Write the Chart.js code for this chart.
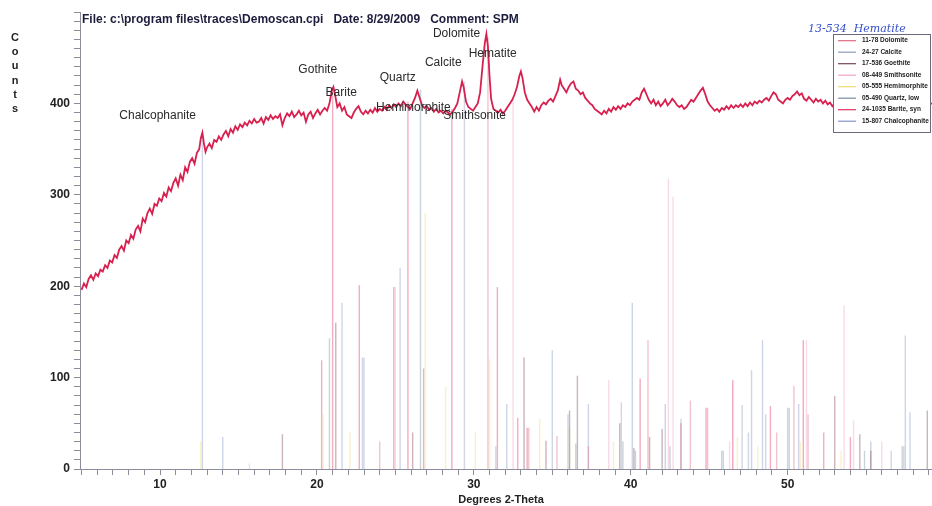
<!DOCTYPE html>
<html>
<head>
<meta charset="utf-8">
<script src="https://cdn.jsdelivr.net/npm/chart.js@4.4.1/dist/chart.umd.min.js"></script>
<style>
  body { margin: 0; background: #fff; }
  #xrd { display: block; }
</style>
</head>
<body>
<canvas id="xrd" width="932" height="506"></canvas>
<script>
// measured scan (degrees 2-theta / counts)
const scanTheta = [
  5.0, 5.15, 5.3, 5.45, 5.6, 5.75, 5.9, 6.05, 6.2, 6.35, 6.5, 6.65, 6.8, 6.95, 7.1, 7.25, 7.4, 7.55, 7.7, 7.85,
  8.0, 8.15, 8.3, 8.45, 8.6, 8.75, 8.9, 9.05, 9.2, 9.35, 9.5, 9.65, 9.8, 9.95, 10.1, 10.25, 10.4, 10.55, 10.7, 10.85,
  11.0, 11.15, 11.3, 11.45, 11.6, 11.75, 11.9, 12.05, 12.2, 12.35, 12.5, 12.6, 12.7, 12.8, 12.9, 13.0, 13.15, 13.3, 13.45, 13.6,
  13.75, 13.9, 14.05, 14.2, 14.35, 14.5, 14.65, 14.8, 14.95, 15.1, 15.25, 15.4, 15.55, 15.7, 15.85, 16.0, 16.15, 16.3, 16.45, 16.6,
  16.75, 16.9, 17.05, 17.2, 17.35, 17.5, 17.65, 17.8, 17.95, 18.1, 18.25, 18.4, 18.55, 18.7, 18.85, 19.0, 19.15, 19.3, 19.45, 19.6,
  19.75, 19.9, 20.05, 20.2, 20.35, 20.5, 20.65, 20.8, 20.95, 21.05, 21.15, 21.3, 21.45, 21.6, 21.75, 21.9, 22.05, 22.2, 22.35, 22.5,
  22.65, 22.8, 22.95, 23.1, 23.25, 23.4, 23.55, 23.7, 23.85, 24.0, 24.15, 24.3, 24.45, 24.6, 24.75, 24.9, 25.05, 25.2, 25.35, 25.5,
  25.65, 25.8, 25.95, 26.1, 26.25, 26.4, 26.55, 26.7, 26.85, 27.0, 27.15, 27.3, 27.45, 27.6, 27.75, 27.9, 28.05, 28.2, 28.35, 28.5,
  28.65, 28.8, 28.95, 29.1, 29.25, 29.35, 29.5, 29.65, 29.8, 29.95, 30.1, 30.25, 30.4, 30.55, 30.7, 30.8, 30.9, 31.0, 31.1, 31.25,
  31.4, 31.55, 31.7, 31.85, 32.0, 32.15, 32.3, 32.45, 32.6, 32.75, 32.9, 33.0, 33.1, 33.25, 33.4, 33.55, 33.7, 33.85, 34.0, 34.15,
  34.3, 34.45, 34.6, 34.75, 34.9, 35.05, 35.2, 35.35, 35.5, 35.6, 35.75, 35.9, 36.05, 36.2, 36.35, 36.5, 36.65, 36.8, 36.95, 37.1,
  37.25, 37.4, 37.55, 37.7, 37.85, 38.0, 38.15, 38.3, 38.45, 38.6, 38.75, 38.9, 39.05, 39.2, 39.35, 39.5, 39.65, 39.8, 39.95, 40.1,
  40.25, 40.4, 40.55, 40.7, 40.85, 41.0, 41.15, 41.3, 41.45, 41.6, 41.75, 41.9, 42.05, 42.2, 42.35, 42.5, 42.65, 42.8, 42.95, 43.1,
  43.25, 43.4, 43.55, 43.7, 43.85, 44.0, 44.15, 44.3, 44.45, 44.6, 44.75, 44.9, 45.05, 45.2, 45.35, 45.5, 45.65, 45.8, 45.95, 46.1,
  46.25, 46.4, 46.55, 46.7, 46.85, 47.0, 47.15, 47.3, 47.45, 47.6, 47.75, 47.9, 48.05, 48.2, 48.35, 48.5, 48.65, 48.8, 48.95, 49.1,
  49.25, 49.4, 49.55, 49.7, 49.85, 50.0, 50.15, 50.3, 50.45, 50.6, 50.75, 50.9, 51.05, 51.2, 51.35, 51.5, 51.65, 51.8, 51.95, 52.1,
  52.25, 52.4, 52.55, 52.7, 52.85, 53.0, 53.5, 54.0, 54.5, 55.0, 55.5, 56.0, 56.5, 57.0, 57.5, 58.0, 58.5, 59.0, 59.2
];
const scanCounts = [
  196, 203, 199, 208, 212, 207, 214, 211, 218, 216, 223, 220, 228, 226, 234, 231, 240, 244, 239, 250,
  247, 256, 252, 262, 266, 260, 274, 270, 280, 285, 279, 290, 288, 296, 293, 302, 298, 308, 304, 313,
  318, 310, 322, 316, 330, 325, 336, 340, 334, 346, 350, 362, 368, 356, 347, 352, 356, 351, 360, 358,
  364, 360, 366, 370, 364, 372, 368, 375, 371, 377, 374, 379, 376, 381, 378, 383, 379, 380, 384, 378,
  385, 382, 387, 383, 386, 384, 388, 376, 384, 389, 386, 391, 385, 388, 392, 387, 390, 380, 388, 391,
  384, 389, 393, 388, 392, 395, 392, 400, 414, 418, 410, 396, 400, 392, 396, 388, 386, 384, 390, 394,
  397, 391, 388, 392, 389, 393, 390, 395, 391, 394, 392, 396, 393, 398, 395, 399, 396, 400, 397, 402,
  399, 396, 394, 400, 406, 414, 406, 398, 395, 397, 393, 395, 391, 394, 390, 392, 389, 392, 390, 388,
  391, 395, 400, 412, 424, 418, 402, 396, 394, 392, 396, 400, 412, 440, 466, 476, 462, 430, 405, 394,
  392, 390, 393, 389, 392, 396, 400, 404, 410, 418, 430, 435, 428, 412, 404, 400, 396, 391, 396, 392,
  398, 401, 399, 403, 405, 402, 408, 414, 426, 420, 416, 412, 418, 422, 424, 416, 414, 410, 412, 406,
  403, 400, 398, 394, 392, 390, 388, 392, 389, 394, 391, 396, 393, 397, 394, 398, 396, 400, 398, 402,
  404, 406, 404, 412, 416, 410, 404, 400, 404, 398, 402, 397, 400, 404, 398, 401, 405, 402, 398, 396,
  398, 394, 396, 400, 404, 402, 406, 410, 414, 417, 410, 402, 398, 395, 392, 394, 391, 395, 393, 397,
  394, 398, 395, 398, 396, 399, 396, 400, 397, 401, 398, 402, 400, 403, 401, 404, 406, 403, 408, 412,
  410, 404, 402, 400, 404, 406, 404, 408, 410, 413, 409, 411, 405, 403, 407, 404, 401, 405, 402, 404,
  400, 403, 399, 401, 397, 400, 398, 401, 399, 402, 398, 400, 403, 399, 401, 398, 400, 399, 400
];

// reference patterns (stick positions / heights)
const dolomiteTheta = [24.0, 30.9, 33.5, 35.3, 37.3, 41.1, 43.8, 44.9, 49.3, 50.4, 51.0, 51.3];
const dolomiteInt = [30, 472, 45, 36, 25, 141, 75, 67, 40, 91, 141, 60];
const calciteTheta = [23.0, 29.4, 31.4, 36.0, 39.4, 43.2, 47.1, 47.5, 48.6, 56.6, 57.4];
const calciteInt = [122, 424, 25, 60, 73, 55, 70, 40, 60, 20, 25];
const goethiteTheta = [17.8, 21.2, 26.1, 33.2, 34.6, 36.1, 36.6, 39.3, 40.2, 41.2, 42.0, 53.0, 54.6, 55.3, 58.9];
const goethiteInt = [38, 160, 40, 122, 31, 64, 102, 50, 23, 35, 44, 80, 38, 20, 64];
const smithTheta = [15.7, 25.0, 32.5, 38.6, 42.4, 42.7, 46.3, 46.5, 51.0, 51.2, 53.6, 54.2, 56.0];
const smithInt = [6, 199, 405, 97, 318, 298, 30, 97, 141, 141, 179, 53, 30];
const hemiTheta = [12.6, 20.4, 22.1, 26.9, 28.2, 30.1, 31.0, 34.2, 36.1, 38.9, 46.8, 48.1, 50.8, 53.4];
const hemiInt = [30, 60, 40, 280, 90, 40, 120, 55, 45, 30, 35, 25, 30, 20];
const quartzTheta = [20.8, 26.6, 36.5, 39.5, 40.3, 42.5, 45.8, 50.1, 54.9, 55.3, 57.3];
const quartzInt = [143, 415, 28, 30, 20, 25, 20, 67, 20, 30, 25];
const bariteTheta = [20.3, 21.0, 22.7, 24.9, 25.8, 26.8, 28.6, 31.5, 32.8, 33.4, 40.6, 43.2, 44.8, 46.5, 48.9, 52.3, 54.0];
const bariteInt = [119, 412, 201, 199, 402, 110, 394, 199, 56, 45, 99, 50, 67, 97, 69, 40, 35];
const chalcoTheta = [12.7, 14.0, 21.6, 22.9, 25.3, 32.1, 35.0, 37.3, 40.1, 42.2, 45.9, 47.7, 48.4, 50.0, 50.7, 57.5, 57.8];
const chalcoInt = [368, 35, 182, 122, 220, 71, 130, 71, 182, 71, 20, 108, 141, 67, 71, 146, 62];

const legendLabels = ['11-78 Dolomite', '24-27 Calcite', '17-536 Goethite', '08-449 Smithsonite',
  '05-555 Hemimorphite', '05-490 Quartz, low', '24-1035 Barite, syn', '15-807 Chalcophanite'];
const legendColors = ['#e06a84', '#8f9ab8', '#7a4656', '#f0a2c8', '#eedc72', '#7890a4', '#e0355f', '#8595c8'];

const peakNames = ['Chalcophanite', 'Gothite', 'Barite', 'Quartz', 'Hemimorphite', 'Calcite', 'Dolomite', 'Hematite', 'Smithsonite'];
const peakTheta = [9.85, 20.05, 21.55, 25.15, 26.15, 28.05, 28.9, 31.2, 30.05];
const peakCounts = [387, 437, 412, 428, 395, 444, 476, 454, 387];

const yTickValues = [0, 100, 200, 300, 400];
const titleText = 'File: c:\\program files\\traces\\Demoscan.cpi   Date: 8/29/2009   Comment: SPM';

function stickPoints(theta, heights) {
    const pts = [];
    theta.forEach((t, i) => {
        pts.push({x: t, y: 0}, {x: t, y: heights[i]}, {x: t, y: null});
    });
    return pts;
}

function fade(hex, a) {
    const n = parseInt(hex.slice(1), 16);
    return `rgba(${(n >> 16) & 255}, ${(n >> 8) & 255}, ${n & 255}, ${a})`;
}

const phases = [
    [dolomiteTheta, dolomiteInt], [calciteTheta, calciteInt], [goethiteTheta, goethiteInt],
    [smithTheta, smithInt], [hemiTheta, hemiInt], [quartzTheta, quartzInt],
    [bariteTheta, bariteInt], [chalcoTheta, chalcoInt]
];

const stickSets = phases.map((p, i) => ({
    label: legendLabels[i],
    data: stickPoints(p[0], p[1]),
    borderColor: fade(legendColors[i], 0.4),
    borderWidth: 1.4,
    pointRadius: 0,
    spanGaps: false,
    tension: 0,
    order: 2
}));

const scanSet = {
    label: 'scan',
    data: scanTheta.map((t, i) => ({x: t, y: scanCounts[i]})),
    borderColor: '#d8204e',
    borderWidth: 1.8,
    pointRadius: 0,
    tension: 0,
    order: 0
};

const FONT = '"Liberation Sans", Arial, sans-serif';

const annotations = {
    id: 'annotations',
    afterDatasetsDraw(chart) {
        const ctx = chart.ctx;
        const xs = chart.scales.x, ys = chart.scales.y;
        ctx.save();

        // peak labels
        ctx.fillStyle = '#2a2a2a';
        ctx.font = `12px ${FONT}`;
        ctx.textAlign = 'center';
        ctx.textBaseline = 'middle';
        peakNames.forEach((name, i) => {
            ctx.fillText(name, xs.getPixelForValue(peakTheta[i]), ys.getPixelForValue(peakCounts[i]));
        });

        // title line
        ctx.fillStyle = '#1c1c3c';
        ctx.font = `bold 12px ${FONT}`;
        ctx.textAlign = 'left';
        ctx.fillText(titleText, 82, 20, 472);

        // y title, letters stacked
        ctx.fillStyle = '#222';
        ctx.font = `bold 11px ${FONT}`;
        ctx.textAlign = 'center';
        'Counts'.split('').forEach((c, i) => ctx.fillText(c, 15, 38 + i * 14.2));

        // x title
        ctx.fillText('Degrees 2-Theta', 501, 500);

        // legend box
        const lx = 833, ly = 34, lw = 98, lh = 99;
        ctx.fillStyle = '#fff';
        ctx.fillRect(lx, ly, lw, lh);
        ctx.strokeStyle = '#6a6a7a';
        ctx.lineWidth = 1;
        ctx.strokeRect(lx + 0.5, ly + 0.5, lw - 1, lh - 1);
        ctx.font = `bold 6.5px ${FONT}`;
        ctx.textAlign = 'left';
        legendLabels.forEach((lab, i) => {
            const yy = 40.7 + i * 11.5;
            ctx.strokeStyle = legendColors[i];
            ctx.lineWidth = 1.2;
            ctx.beginPath();
            ctx.moveTo(838, yy);
            ctx.lineTo(856, yy);
            ctx.stroke();
            ctx.fillStyle = '#222';
            ctx.fillText(lab, 862, yy);
        });

        // handwritten note above legend
        ctx.fillStyle = '#3550c8';
        ctx.font = `italic 11px "DejaVu Serif", serif`;
        ctx.fillText('13-534  Hematite', 808, 29, 119);
        ctx.restore();
    }
};

new Chart(document.getElementById('xrd').getContext('2d'), {
    type: 'line',
    data: { datasets: [scanSet, ...stickSets] },
    options: {
        responsive: false,
        animation: false,
        layout: { padding: { top: 12, right: 0, bottom: 0, left: 0 } },
        plugins: { legend: { display: false }, tooltip: { enabled: false } },
        scales: {
            x: {
                type: 'linear',
                min: 4.9,
                max: 59.2,
                afterFit: s => { s.height = 37; },
                border: { display: true, color: '#8c8c9c', width: 1 },
                grid: { drawOnChartArea: false, drawTicks: true, tickLength: 6, color: '#8c8c9c' },
                ticks: {
                    stepSize: 1,
                    includeBounds: false,
                    autoSkip: false,
                    maxRotation: 0,
                    padding: 2,
                    color: '#222',
                    font: { family: FONT, size: 12, weight: 'bold' },
                    callback: v => (v % 10 === 0 ? String(v) : '')
                }
            },
            y: {
                type: 'linear',
                min: 0,
                max: 500,
                afterFit: s => { s.width = 80; },
                border: { display: true, color: '#8c8c9c', width: 1 },
                grid: { drawOnChartArea: false, drawTicks: true, tickLength: 6, color: '#8c8c9c' },
                ticks: {
                    stepSize: 10,
                    includeBounds: false,
                    autoSkip: false,
                    padding: 4,
                    color: '#222',
                    font: { family: FONT, size: 12, weight: 'bold' },
                    callback: v => (yTickValues.includes(v) ? String(v) : '')
                }
            }
        }
    },
    plugins: [annotations]
});
</script>
</body>
</html>
